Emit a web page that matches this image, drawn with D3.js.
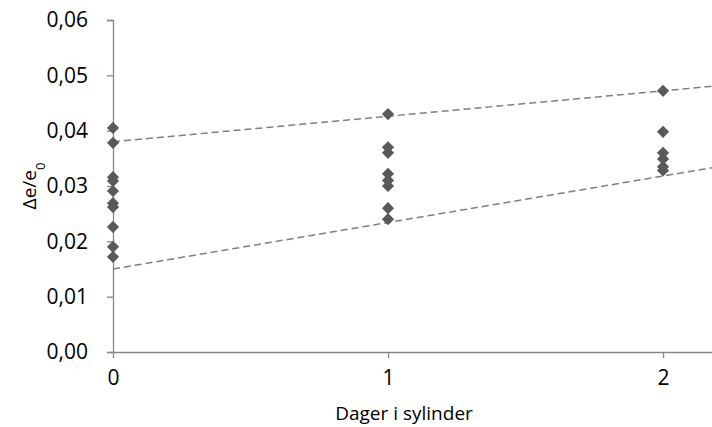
<!DOCTYPE html>
<html>
<head>
<meta charset="utf-8">
<script src="https://cdn.jsdelivr.net/npm/d3@7"></script>
<style>
  body { margin: 0; background: #fff; }
  text { font-family: "Open Sans", sans-serif; fill: #000; }
</style>
</head>
<body>
<div id="chart"></div>
<script>
// measured points: day, strain
const days0 = [0, 0, 0, 0, 0, 0, 0, 0, 0, 0];
const vals0 = [0.0405, 0.0378, 0.0316, 0.0309, 0.0291, 0.0269, 0.0262, 0.0226, 0.0190, 0.0172];
const days1 = [1, 1, 1, 1, 1, 1, 1, 1];
const vals1 = [0.0430, 0.0370, 0.0360, 0.0322, 0.0310, 0.0300, 0.0260, 0.0240];
const days2 = [2, 2, 2, 2, 2, 2];
const vals2 = [0.0472, 0.0398, 0.0360, 0.0349, 0.0335, 0.0328];

// dashed trend lines: intercept, slope
const trendIntercepts = [0.0380, 0.0150];
const trendSlopes = [0.0046, 0.0084];

const yTicks = [0, 0.01, 0.02, 0.03, 0.04, 0.05, 0.06];
const xTicks = [0, 1, 2];

const width = 712, height = 427;
const margin = { top: 20, right: 0, bottom: 75, left: 113 };

const svg = d3.select("#chart").append("svg")
    .attr("width", width)
    .attr("height", height);

const x = d3.scaleLinear().domain([0, 2.178]).range([margin.left, width - margin.right]);
const y = d3.scaleLinear().domain([0, 0.06]).range([height - margin.bottom, margin.top]);

const fmt = d => d.toFixed(2).replace(".", ",");

// y axis
const yAxis = svg.append("g")
    .attr("transform", `translate(${margin.left},0)`)
    .call(d3.axisLeft(y).tickValues(yTicks).tickFormat(fmt).tickSize(6).tickPadding(19));
yAxis.select(".domain").attr("stroke", "#868686").attr("stroke-width", 1.3);
yAxis.selectAll(".tick line").attr("stroke", "#868686").attr("stroke-width", 1.3);
yAxis.selectAll("text").style("font-size", "21px").attr("fill", "#000");

// x axis
const xAxis = svg.append("g")
    .attr("transform", `translate(0,${y(0)})`)
    .call(d3.axisBottom(x).tickValues(xTicks).tickFormat(d3.format("d")).tickSize(6).tickSizeOuter(0).tickPadding(12));
xAxis.select(".domain").attr("stroke", "#868686").attr("stroke-width", 1.3);
xAxis.selectAll(".tick line").attr("stroke", "#868686").attr("stroke-width", 1.3);
xAxis.selectAll("text").style("font-size", "21px").attr("fill", "#000");

// trend lines
const xEnd = x.domain()[1];
svg.append("g").selectAll("line")
    .data(trendIntercepts.map((b, i) => ({ b: b, m: trendSlopes[i] })))
    .join("line")
    .attr("x1", x(0))
    .attr("y1", d => y(d.b))
    .attr("x2", x(xEnd))
    .attr("y2", d => y(d.b + d.m * xEnd))
    .attr("stroke", "#7f7f7f")
    .attr("stroke-width", 1.5)
    .attr("stroke-dasharray", "7,4");

// points
const pts = [];
[[days0, vals0], [days1, vals1], [days2, vals2]].forEach(([ds, vs]) => {
    ds.forEach((d, i) => pts.push({ day: d, v: vs[i] }));
});

svg.append("g").selectAll("path")
    .data(pts)
    .join("path")
    .attr("transform", d => `translate(${x(d.day)},${y(d.v)})`)
    .attr("d", d3.symbol().type(d3.symbolDiamond2).size(95))
    .attr("fill", "#595959");

// axis titles
svg.append("text")
    .attr("x", 404)
    .attr("y", 420)
    .attr("text-anchor", "middle")
    .style("font-size", "19px")
    .text("Dager i sylinder");

const yt = svg.append("text")
    .attr("transform", `translate(36,${(y.range()[0] + y.range()[1]) / 2}) rotate(-90)`)
    .attr("text-anchor", "middle")
    .style("font-size", "19px");
yt.append("tspan").text("Δe/e");
yt.append("tspan").attr("baseline-shift", "sub").style("font-size", "13px").text("0");
</script>
</body>
</html>
